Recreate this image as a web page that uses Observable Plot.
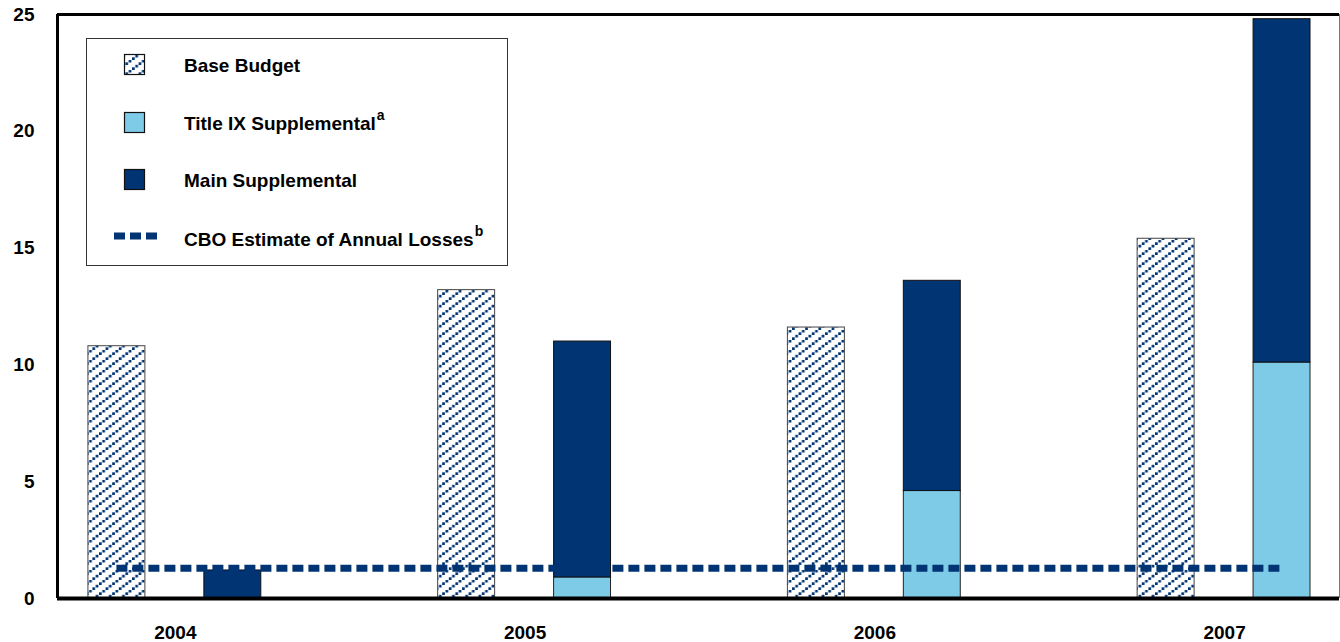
<!DOCTYPE html>
<html>
<head>
<meta charset="utf-8">
<script src="https://cdn.jsdelivr.net/npm/d3@7"></script>
<script src="https://cdn.jsdelivr.net/npm/@observablehq/plot@0.6"></script>
<style>
  body { margin: 0; background: #fff; }
  #wrap { position: relative; width: 1340px; height: 642px; font-family: "Liberation Sans", Arial, sans-serif; }
  #legend { position: absolute; left: 0; top: 0; pointer-events: none; }
</style>
</head>
<body>
<div id="wrap"></div>
<script>
// ---- data (billions of dollars) ----
const years = [2004, 2005, 2006, 2007];
const baseBudget = [10.8, 13.2, 11.6, 15.4];
const titleIXSupplemental = [0, 0.9, 4.6, 10.1];
const mainSupplemental = [1.2, 10.1, 9.0, 14.7];
const cboAnnualLosses = 1.3;
const yTicks = [0, 5, 10, 15, 20, 25];
const legendLabels = ["Base Budget", "Title IX Supplemental", "Main Supplemental", "CBO Estimate of Annual Losses"];

// ---- layout (offsets of the two bars around each year, in year units) ----
const BASE_SLOT = [-0.2486, -0.0857];
const SUPP_SLOT = [0.0829, 0.2457];
const X_DOMAIN = [2003.663, 2007.3286];
const NAVY = "#003473";
const LIGHT = "#7ecbe8";
const FONT = '"Liberation Sans", Arial, sans-serif';

const baseRows = years.map((y, i) => ({year: y, x1: y + BASE_SLOT[0], x2: y + BASE_SLOT[1], y1: 0, y2: baseBudget[i]}));
const titleRows = years.map((y, i) => ({year: y, x1: y + SUPP_SLOT[0], x2: y + SUPP_SLOT[1], y1: 0, y2: titleIXSupplemental[i]}))
  .filter(d => d.y2 > 0);
const mainRows = years.map((y, i) => ({year: y, x1: y + SUPP_SLOT[0], x2: y + SUPP_SLOT[1],
  y1: titleIXSupplemental[i], y2: titleIXSupplemental[i] + mainSupplemental[i]}));
const cboRows = [{
  x1: years[0] + (BASE_SLOT[0] + BASE_SLOT[1]) / 2,
  x2: years[years.length - 1] + (SUPP_SLOT[0] + SUPP_SLOT[1]) / 2,
  y: cboAnnualLosses
}];

const chart = Plot.plot({
  width: 1340,
  height: 642,
  marginLeft: 57,
  marginRight: 1,
  marginTop: 14,
  marginBottom: 44,
  style: {fontFamily: FONT, fontSize: "19px", fontWeight: "bold", color: "#000", background: "#fff", overflow: "visible"},
  x: {type: "linear", domain: X_DOMAIN, ticks: years, tickFormat: d => String(d), tickSize: 0, tickPadding: 27, label: null},
  y: {domain: [0, 25], ticks: yTicks, tickSize: 0, tickPadding: 23, label: null},
  marks: [
    Plot.rectY(baseRows, {x1: "x1", x2: "x2", y1: "y1", y2: "y2", fill: "url(#hatch)", stroke: "#444", strokeWidth: 1}),
    Plot.rectY(titleRows, {x1: "x1", x2: "x2", y1: "y1", y2: "y2", fill: LIGHT, stroke: "#222", strokeWidth: 1}),
    Plot.rectY(mainRows, {x1: "x1", x2: "x2", y1: "y1", y2: "y2", fill: NAVY, stroke: "#111", strokeWidth: 1}),
    Plot.ruleY(cboRows, {x1: "x1", x2: "x2", y: "y", stroke: NAVY, strokeWidth: 7, strokeDasharray: "11,5"}),
    Plot.ruleY([0], {stroke: "#000", strokeWidth: 4}),
    Plot.ruleY([25], {stroke: "#000", strokeWidth: 3}),
    Plot.ruleX([X_DOMAIN[0]], {stroke: "#000", strokeWidth: 3}),
    Plot.ruleX([X_DOMAIN[1]], {stroke: "#777", strokeWidth: 1})
  ]
});

// hatch pattern: diagonal dotted navy lines on white (~10px apart vertically)
const defs = d3.select(chart).insert("defs", ":first-child");
const TW = 13.2, TH = 10, ND = 4, DS = 2.7;
const pat = defs.append("pattern").attr("id", "hatch").attr("patternUnits", "userSpaceOnUse")
  .attr("width", TW).attr("height", TH);
pat.append("rect").attr("width", TW).attr("height", TH).attr("fill", "#fff");
for (let k = 0; k < ND; k++) {
  pat.append("rect").attr("x", k * TW / ND).attr("y", TH - k * TH / ND - DS).attr("width", DS).attr("height", DS).attr("fill", NAVY);
}

const wrap = document.getElementById("wrap");
wrap.appendChild(chart);

// legend overlay (inside the plot area)
const leg = d3.select(wrap).append("svg").attr("id", "legend").attr("width", 1340).attr("height", 642)
  .style("font-family", FONT).style("font-weight", "bold").style("font-size", "19px");
leg.append("rect").attr("x", 86.5).attr("y", 38.5).attr("width", 421).attr("height", 227)
  .attr("fill", "#fff").attr("stroke", "#333").attr("stroke-width", 1);
const rowsY = [72, 130, 187, 246];
const swatchFill = ["url(#hatch)", LIGHT, NAVY];
swatchFill.forEach((f, i) => {
  leg.append("rect").attr("x", 124.5).attr("y", rowsY[i] - 17.5).attr("width", 20).attr("height", 20)
    .attr("fill", f).attr("stroke", "#111").attr("stroke-width", 1.2);
});
leg.append("line").attr("x1", 114).attr("x2", 157).attr("y1", 236).attr("y2", 236)
  .attr("stroke", NAVY).attr("stroke-width", 7).attr("stroke-dasharray", "11,5");
const sups = [null, "a", null, "b"];
legendLabels.forEach((t, i) => {
  const tx = leg.append("text").attr("x", 184).attr("y", rowsY[i]).attr("fill", "#000");
  tx.append("tspan").text(t);
  if (sups[i]) tx.append("tspan").attr("dx", 1).attr("dy", -10).attr("font-size", "14px").text(sups[i]);
});
</script>
</body>
</html>
